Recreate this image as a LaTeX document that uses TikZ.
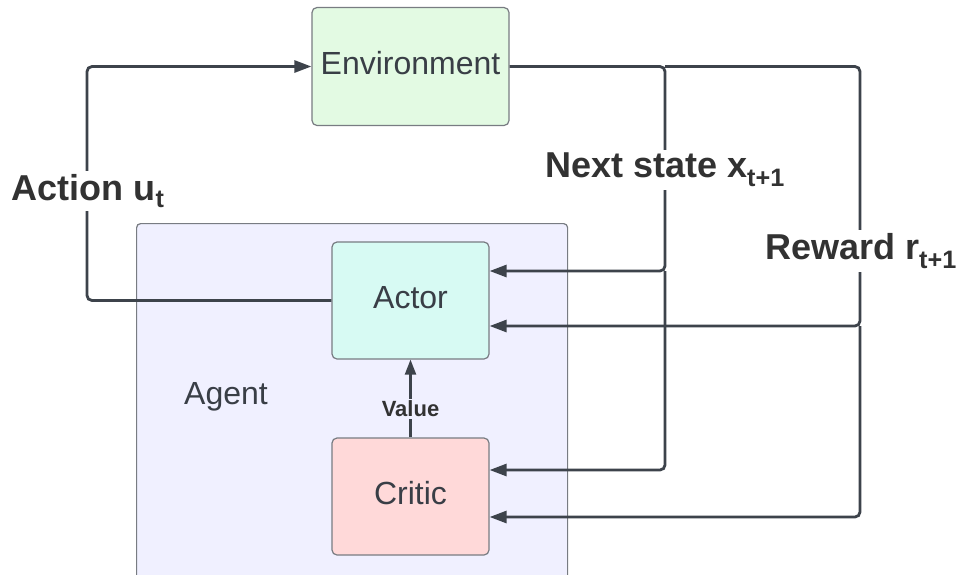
\documentclass[tikz,border=0pt]{standalone}
\usepackage{fontspec}
\setmainfont{Liberation Sans}
\usetikzlibrary{arrows.meta}
\definecolor{ink}{RGB}{61,67,75}
\definecolor{txt}{RGB}{57,62,70}
\definecolor{lbltxt}{RGB}{50,50,50}
\definecolor{boxline}{RGB}{120,124,130}
\definecolor{envfill}{RGB}{227,250,227}
\definecolor{actorfill}{RGB}{215,250,243}
\definecolor{criticfill}{RGB}{255,217,217}
\definecolor{agentfill}{RGB}{240,240,255}
\begin{document}
\begin{tikzpicture}[x=1pt,y=-1pt,
  box/.style={draw=boxline, line width=1.2pt, rounded corners=5pt,
    text=txt, font=\fontsize{32}{38}\selectfont, inner sep=0pt,
    text height=23pt, text depth=8pt},
  conn/.style={draw=ink, line width=2.8pt, rounded corners=5pt},
  tip/.style={-{Triangle[length=17pt,width=12pt]}},
  lbl/.style={text=lbltxt, font=\bfseries\fontsize{36}{42}\selectfont,
    fill=white, inner sep=3pt}]
\useasboundingbox (0,0) rectangle (960,574);
\fill[white] (0,0) rectangle (960,574);

% agent container, runs past the bottom edge
\node[draw=boxline, line width=1.2pt, rounded corners=4pt, fill=agentfill,
  anchor=north west, minimum width=431pt, minimum height=370pt, inner sep=0pt]
  (agent) at (136,223) {};
\node[text=txt, font=\fontsize{32}{38}\selectfont] (agentlbl) at (226,397) {Agent};

% blocks
\node[box, fill=envfill, minimum width=197pt, minimum height=118pt] (env) at (410.5,66.5) {Environment};
\node[box, fill=actorfill, minimum width=157pt, minimum height=117pt] (actor) at (410.5,300.5) {Actor};
\node[box, fill=criticfill, minimum width=157pt, minimum height=117pt] (critic) at (410.5,496.5) {Critic};

% routing points
\coordinate (aL) at (87,300.5);
\coordinate (aT) at (87,66.5);
\coordinate (ns1) at (665,66.5);
\coordinate (ns2) at (665,271);
\coordinate (ns3) at (665,470);
\coordinate (rw1) at (860,66.5);
\coordinate (rw2) at (860,326);
\coordinate (rw3) at (860,517);

% action from actor back to environment
\draw[conn, tip] (actor.west) -- (aL) -- (aT) -- (env.west);
% next state feeds actor and critic
\draw[conn, tip] (env.east) -- (ns1) -- (ns2) -- (actor.east |- ns2);
\draw[conn, tip] (ns2) -- (ns3) -- (critic.east |- ns3);
% reward feeds actor and critic
\draw[conn, tip] (ns1) -- (rw1) -- (rw2) -- (actor.east |- rw2);
\draw[conn, tip] (rw2) -- (rw3) -- (critic.east |- rw3);
% value from critic to actor
\draw[draw=ink, line width=2.2pt, -{Triangle[length=15pt,width=11pt]}] (critic.north) -- (actor.south);

% connector labels
\node[lbl] (actlbl) at (88,191) {Action u\textsubscript{t}};
\node[lbl] (nslbl) at (665,170) {Next state x\textsubscript{t+1}};
\node[lbl] (rwlbl) at (861,251) {Reward r\textsubscript{t+1}};
\node[text=lbltxt, font=\bfseries\fontsize{22}{26}\selectfont, fill=agentfill, inner sep=2pt] (vallbl) at (410.5,409) {Value};
\end{tikzpicture}
\end{document}
